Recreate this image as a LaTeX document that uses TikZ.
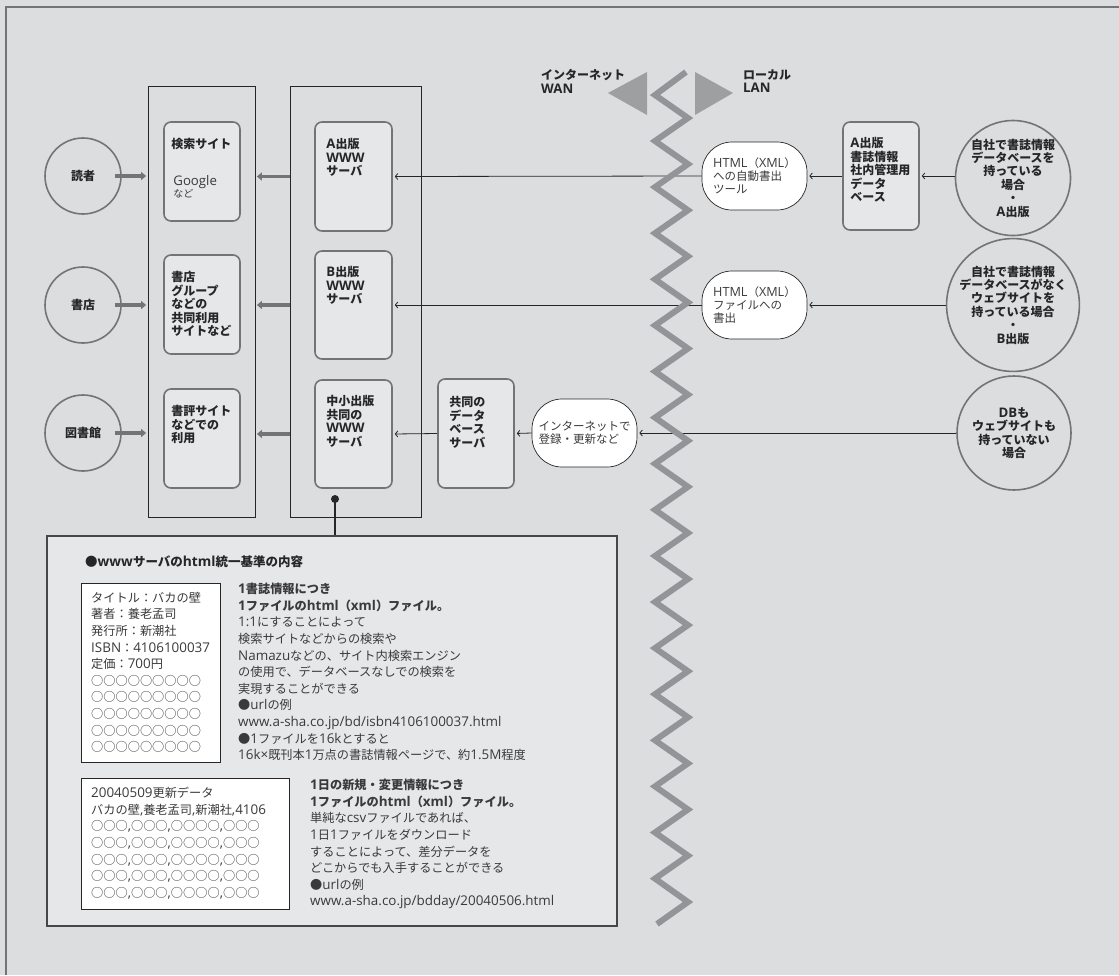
\documentclass[tikz,border=0pt]{standalone}
\usepackage{fontspec}
\setmainfont{Open Sans}[Scale=1.1]
\newfontfamily\cjkfam{Noto Sans CJK JP}
\newfontfamily\latinfam{Open Sans}[Scale=1.1]
\XeTeXinterchartokenstate=1
\count255="3000
\loop \XeTeXcharclass\count255=1 \advance\count255 by 1 \ifnum\count255<"3100 \repeat
\count255="3400
\loop \XeTeXcharclass\count255=1 \advance\count255 by 1 \ifnum\count255<"A000 \repeat
\count255="FF00
\loop \XeTeXcharclass\count255=1 \advance\count255 by 1 \ifnum\count255<"FF61 \repeat
\XeTeXcharclass"25CB=1
\XeTeXcharclass"25CF=1
\XeTeXinterchartoks 0 1 = {\cjkfam}
\XeTeXinterchartoks 0 2 = {\cjkfam}
\XeTeXinterchartoks 0 3 = {\cjkfam}
\XeTeXinterchartoks 4095 1 = {\cjkfam}
\XeTeXinterchartoks 4095 2 = {\cjkfam}
\XeTeXinterchartoks 4095 3 = {\cjkfam}
\XeTeXinterchartoks 1 0 = {\latinfam}
\XeTeXinterchartoks 2 0 = {\latinfam}
\XeTeXinterchartoks 3 0 = {\latinfam}
\XeTeXinterchartoks 4095 0 = {\latinfam}
\usetikzlibrary{arrows.meta,positioning}
\definecolor{paper}{HTML}{DCDDDF}
\definecolor{boxfill}{HTML}{E6E7E9}
\definecolor{rim}{HTML}{737476}
\definecolor{zig}{HTML}{929497}
\definecolor{ink}{HTML}{262626}
\definecolor{softink}{HTML}{3A3A3A}
\tikzset{
  colbox/.style={draw=ink,line width=0.8pt,inner sep=0pt},
  sitebox/.style={draw=rim,line width=1.6pt,fill=boxfill,rounded corners=7pt,inner sep=0pt},
  party/.style={circle,draw=rim,line width=1.6pt,text=ink,align=center,inner sep=0pt,
    font=\fontsize{12}{13.4}\selectfont\bfseries},
  tool/.style={draw=ink,line width=0.7pt,fill=white,rounded corners=30pt,
    minimum width=105pt,minimum height=68pt,inner sep=0pt,text=softink,align=left,
    font=\fontsize{11.5}{12.8}\selectfont},
  boxlbl/.style={anchor=north west,inner sep=0pt,text=ink,align=left,
    font=\fontsize{12}{13.5}\selectfont\bfseries},
  paneltext/.style={anchor=north west,inner sep=0pt,text=softink,align=left,
    font=\fontsize{12.2}{16.6}\selectfont},
  card/.style={draw=ink,line width=0.9pt,fill=white,inner sep=0pt},
  feed/.style={draw=ink,line width=0.8pt,shorten >=2pt,-{Straight Barb[length=2.5pt,width=6pt]}},
  thickflow/.style={draw=rim,line width=3.6pt,shorten >=1.5pt,-{Triangle[length=5pt,width=8pt]}},
}
\begin{document}
\begin{tikzpicture}[x=1pt,y=-1pt]
\fill[paper] (0,0) rectangle (1119,975);
\useasboundingbox (0,0) rectangle (1119,975);
\draw[rim,line width=2pt] (6,975) -- (6,7) -- (1119,7);

% readers
\node[party,minimum size=76pt] (reader) at (83,176) {読者};
\node[party,minimum size=76pt] (shop) at (83,305) {書店};
\node[party,minimum size=76pt] (library) at (83,433) {図書館};

% two columns of sites and servers
\node[colbox,minimum width=107pt,minimum height=431pt] (col1) at (201.5,301.5) {};
\node[colbox,minimum width=131pt,minimum height=431pt] (col2) at (355.5,301.5) {};

\node[sitebox,minimum width=76pt,minimum height=99pt] (s1) at (202,171.5) {};
\node[sitebox,minimum width=76pt,minimum height=99pt] (s2) at (202,304.5) {};
\node[sitebox,minimum width=76pt,minimum height=99pt] (s3) at (202,438.5) {};
\node[boxlbl] (s1t) at ([shift={(8,17)}]s1.north west) {検索サイト};
\node[anchor=north west,inner sep=0pt,text=softink,align=left,font=\fontsize{12}{11}\selectfont]
  (s1g) at ([shift={(10,54)}]s1.north west) {Google\\{\fontsize{10}{10}\selectfont など}};
\node[boxlbl] (s2t) at ([shift={(8,17)}]s2.north west) {書店\\グループ\\などの\\共同利用\\サイトなど};
\node[boxlbl] (s3t) at ([shift={(8,17)}]s3.north west) {書評サイト\\などでの\\利用};

\node[sitebox,minimum width=77pt,minimum height=109pt] (w1) at (353.5,176.5) {};
\node[sitebox,minimum width=77pt,minimum height=108pt] (w2) at (353.5,305) {};
\node[sitebox,minimum width=77pt,minimum height=108pt] (w3) at (353.5,434) {};
\node[boxlbl] (w1t) at ([shift={(12,17)}]w1.north west) {A出版\\WWW\\サーバ};
\node[boxlbl] (w2t) at ([shift={(12,16)}]w2.north west) {B出版\\WWW\\サーバ};
\node[boxlbl] (w3t) at ([shift={(12,16)}]w3.north west) {中小出版\\共同の\\WWW\\サーバ};

\node[sitebox,minimum width=76pt,minimum height=109pt] (db) at (476,433.5) {};
\node[boxlbl] (dbt) at ([shift={(12,18)}]db.north west) {共同の\\データ\\ベース\\サーバ};

% export tools
\node[tool] (t1) at (754.5,176) {HTML（XML）\\への自動書出\\ツール};
\node[tool] (t2) at (754.5,305) {HTML（XML）\\ファイルへの\\書出};
\node[tool] (t3) at (584.5,433) {インターネットで\\登録・更新など};

\node[sitebox,minimum width=76pt,minimum height=108pt] (dbA) at (881,176) {};
\node[boxlbl] (dbAt) at ([shift={(8,16)}]dbA.north west) {A出版\\書誌情報\\社内管理用\\データ\\ベース};

% publishers
\node[party,minimum size=114pt] (cA) at (1013,178) {自社で書誌情報\\データベースを\\持っている\\場合\\・\\A出版};
\node[party,minimum size=114pt] (cB) at (1013,305) {自社で書誌情報\\データベースがなく\\ウェブサイトを\\持っている場合\\・\\B出版};
\node[party,minimum size=114pt] (cC) at (1014,433) {DBも\\ウェブサイトも\\持っていない\\場合};

\draw[feed] (cA.west |- dbA.east) -- (dbA.east);
\draw[feed] (dbA.west) -- (t1.east);
\draw[feed] (t1.west) -- (w1.east);
\draw[feed] (cB.west) -- (t2.east);
\draw[feed] (t2.west) -- (w2.east);
\draw[feed] (cC.west) -- (t3.east);
\draw[feed] (t3.west) -- (db.east);
\draw[feed] (db.west) -- (w3.east);

\draw[thickflow] ([xshift=-7pt]reader.east) -- (col1.west |- reader.east);
\draw[thickflow] ([xshift=-7pt]shop.east) -- (col1.west |- shop.east);
\draw[thickflow] ([xshift=-7pt]library.east) -- (col1.west |- library.east);
\draw[thickflow] (col2.west |- w1.east) -- (col1.east |- w1.east);
\draw[thickflow] (col2.west |- w2.east) -- (col1.east |- w2.east);
\draw[thickflow] (col2.west |- w3.east) -- (col1.east |- w3.east);

% WAN / LAN border
\fill[zig!90] (608,93) -- (647,72) -- (647,115) -- cycle;
\fill[zig!90] (695,72) -- (695,115) -- (733,93) -- cycle;
\draw[zig,line width=6pt,line join=miter] (686,72) -- (655,95)
  \foreach \k in {0,...,16} { -- (688,{118+46.1*\k}) -- (655,{141+46.1*\k}) }
  -- (688,902) -- (657,924);
\node[boxlbl] (wan) at (541,69.5) {インターネット\\WAN};
\node[boxlbl] (lan) at (743,69.5) {ローカル\\LAN};

% html standard
\node[draw=ink!85,line width=1.2pt,fill=boxfill,minimum width=570pt,minimum height=390pt,inner sep=0pt] (panel) at (332,731) {};
\coordinate (hub) at (335,499);
\draw[ink,line width=2pt] (hub) -- (hub |- panel.north);
\fill[ink] (hub) circle (4pt);
\node[boxlbl,font=\fontsize{12.5}{14}\selectfont\bfseries] (ptitle) at (85,556) {●wwwサーバのhtml統一基準の内容};

\node[card,minimum width=139pt,minimum height=179pt] (card1) at (150.5,672.5) {};
\node[card,minimum width=208pt,minimum height=131pt] (card2) at (185,843.5) {};
\node[paneltext] (card1t) at (91,592) {タイトル：バカの壁\\著者：養老孟司\\発行所：新潮社\\ISBN：4106100037\\定価：700円\\○○○○○○○○○\\○○○○○○○○○\\○○○○○○○○○\\○○○○○○○○○\\○○○○○○○○○};
\node[paneltext] (note1) at (238,583) {\textbf{1書誌情報につき}\\\textbf{1ファイルのhtml（xml）ファイル。}\\1:1にすることによって\\検索サイトなどからの検索や\\Namazuなどの、サイト内検索エンジン\\の使用で、データベースなしでの検索を\\実現することができる\\●urlの例\\www.a-sha.co.jp/bd/isbn4106100037.html\\●1ファイルを16kとすると\\16k×既刊本1万点の書誌情報ページで、約1.5M程度};
\node[paneltext] (card2t) at (91,787) {20040509更新データ\\バカの壁,養老孟司,新潮社,4106\\○○○,○○○,○○○○,○○○\\○○○,○○○,○○○○,○○○\\○○○,○○○,○○○○,○○○\\○○○,○○○,○○○○,○○○\\○○○,○○○,○○○○,○○○};
\node[paneltext] (note2) at (310,779) {\textbf{1日の新規・変更情報につき}\\\textbf{1ファイルのhtml（xml）ファイル。}\\単純なcsvファイルであれば、\\1日1ファイルをダウンロード\\することによって、差分データを\\どこからでも入手することができる\\●urlの例\\www.a-sha.co.jp/bdday/20040506.html};
\end{tikzpicture}
\end{document}
